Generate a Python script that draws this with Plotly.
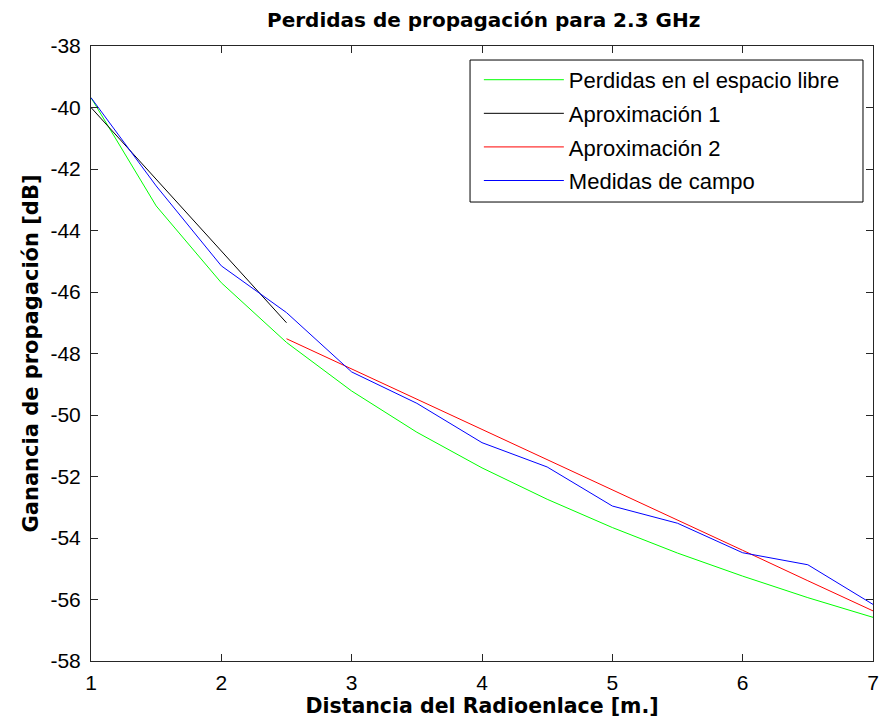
import plotly.graph_objects as go

x_vals = [1, 1.5, 2, 2.5, 3, 3.5, 4, 4.5, 5, 5.5, 6, 6.5, 7]
free_space = [-39.68, -43.2, -45.7, -47.64, -49.22, -50.56, -51.72, -52.74, -53.66, -54.49, -55.24, -55.94, -56.58]

x_aprox1 = [1, 1.5, 2, 2.5]
aprox1 = [-40.0, -42.33, -44.67, -47.0]

x_aprox2 = [2.5, 3, 3.5, 4, 4.5, 5, 5.5, 6, 6.5, 7]
aprox2 = [-47.52, -48.50, -49.49, -50.47, -51.45, -52.44, -53.42, -54.40, -55.39, -56.37]

medidas = [-39.68, -42.55, -45.15, -46.67, -48.6, -49.62, -50.9, -51.69, -52.96, -53.52, -54.48, -54.87, -56.16]

x_ticks = [1, 2, 3, 4, 5, 6, 7]
x_ticktext = ["1", "2", "3", "4", "5", "6", "7"]
y_ticks = [-58, -56, -54, -52, -50, -48, -46, -44, -42, -40, -38]
y_ticktext = ["-58", "-56", "-54", "-52", "-50", "-48", "-46", "-44", "-42", "-40", "-38"]

names = ["Perdidas en el espacio libre", "Aproximación 1", "Aproximación 2", "Medidas de campo"]
colors = ["#00ff00", "#000000", "#ff0000", "#0000ff"]

fig = go.Figure()
series = [(x_vals, free_space), (x_aprox1, aprox1), (x_aprox2, aprox2), (x_vals, medidas)]
for i, ((xs, ys), n, c) in enumerate(zip(series, names, colors)):
    fig.add_trace(go.Scatter(x=xs, y=ys, mode="lines", name=n,
                             line=dict(color=c, width=1), legendgroup=f"g{i}"))

reg_font = "Liberation Sans, Arial, sans-serif"
bold_font = "DejaVu Sans, Liberation Sans, sans-serif"
axis_common = dict(showline=True, linecolor="#262626", linewidth=1, mirror="ticks",
                   ticks="inside", ticklen=7, tickcolor="#262626", showgrid=False,
                   zeroline=False, automargin=False,
                   tickfont=dict(size=21, color="black", family=reg_font))

# legend frame (drawn as a shape so the padding matches the reference)
fig.add_shape(type="rect", xref="paper", yref="paper",
              x0=0.4847, x1=0.9872, y0=0.7463, y1=0.9772,
              line=dict(color="black", width=1), fillcolor="white", layer="below")

fig.update_layout(
    width=881, height=727,
    margin=dict(l=91, r=8, t=46, b=66),
    paper_bgcolor="white", plot_bgcolor="white",
    title=dict(text="<b>Perdidas de propagación para 2.3 GHz</b>", x=0.549, xanchor="center",
               y=0.9725, yanchor="middle", font=dict(size=20, family=bold_font, color="black")),
    xaxis=dict(range=[1, 7], tickvals=x_ticks, ticktext=x_ticktext, ticklabelstandoff=3,
               title=dict(text="<b>Distancia del Radioenlace [m.]</b>", standoff=0,
                          font=dict(size=20.5, family=bold_font, color="black")),
               **axis_common),
    yaxis=dict(range=[-58, -38], tickvals=y_ticks, ticktext=y_ticktext, ticklabelstandoff=5,
               title=dict(text="<b>Ganancia de propagación [dB]</b>", standoff=6,
                          font=dict(size=21, family=bold_font, color="black")),
               **axis_common),
    legend=dict(x=0.496, y=0.979, xanchor="left", yanchor="top",
                borderwidth=0, bgcolor="rgba(0,0,0,0)",
                font=dict(size=22, family=reg_font, color="black"),
                traceorder="grouped", tracegroupgap=2, itemwidth=80),
    showlegend=True,
)

fig.write_html("out.html", config={"displayModeBar": False},
               post_script="document.body.style.margin='0px';")
